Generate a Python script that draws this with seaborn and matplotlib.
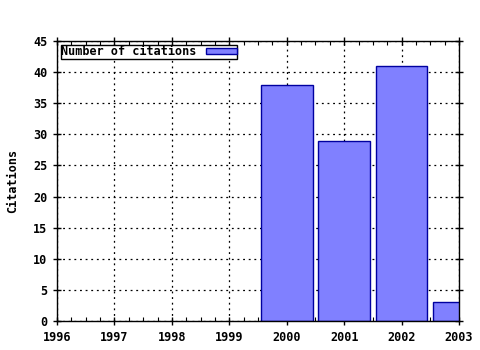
import matplotlib
matplotlib.use("Agg")
import matplotlib.pyplot as plt
import seaborn as sns
import pandas as pd
from matplotlib.ticker import MultipleLocator

years = [2000, 2001, 2002, 2003]
citations = [38, 29, 41, 3]
series_label = "Number of citations"
y_label = "Citations"

sns.set_style("white")
plt.rcParams['font.family'] = ['DejaVu Sans Mono']
plt.rcParams['font.weight'] = 'bold'
plt.rcParams['text.color'] = 'black'
plt.rcParams['axes.labelcolor'] = 'black'
plt.rcParams['xtick.color'] = 'black'
plt.rcParams['ytick.color'] = 'black'

df = pd.DataFrame({"year": years, "citations": citations})

fig = plt.figure(figsize=(4.8, 3.5), dpi=100)
ax = fig.add_axes([57/480, 1 - 321/350, (459-57)/480, (321-41)/350])

sns.barplot(data=df, x="year", y="citations", native_scale=True, width=0.9,
            color="#8080ff", saturation=1, edgecolor="#0000a0", linewidth=1.0,
            ax=ax, label=series_label)

ax.set_xlim(1996, 2003)
ax.set_ylim(0, 45)
ax.xaxis.set_major_locator(MultipleLocator(1))
ax.xaxis.set_minor_locator(MultipleLocator(0.25))
ax.yaxis.set_major_locator(MultipleLocator(5))
ax.set_xticklabels([str(int(v)) for v in ax.get_xticks()])
ax.set_xlabel("")
ax.set_ylabel(y_label, fontsize=8.5, fontweight='bold', labelpad=10, color='black')

for s in ax.spines.values():
    s.set_visible(True)
    s.set_color("black")
    s.set_linewidth(1.0)

ax.grid(True, which='major', color='black', linestyle=(0, (1.5, 3)), linewidth=0.9)
ax.set_axisbelow(True)
ax.tick_params(axis='both', which='major', direction='inout', length=6, width=1,
               labelsize=8.5, top=True, right=True, bottom=True, left=True,
               color='black', labelcolor='black', pad=4)
ax.tick_params(axis='x', which='minor', direction='in', length=3, width=0.8,
               top=True, bottom=True, color='black')
for lbl in ax.get_xticklabels() + ax.get_yticklabels():
    lbl.set_fontweight('bold')

leg = ax.legend(loc='upper left', markerfirst=False, frameon=True, fancybox=False,
                prop={'family': 'DejaVu Sans Mono', 'weight': 'bold', 'size': 8.5},
                handlelength=2.6, handleheight=0.5, borderpad=0.05, borderaxespad=0.3,
                handletextpad=0.8, framealpha=1)
leg.get_frame().set_edgecolor('black')
leg.get_frame().set_linewidth(1.0)
for t in leg.get_texts():
    t.set_color('black')

fig.savefig("out.png", dpi=100)
